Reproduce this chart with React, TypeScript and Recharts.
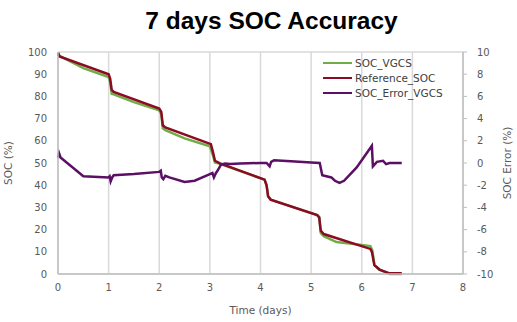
import React from 'react';
import { LineChart, Line, XAxis, YAxis, CartesianGrid, Legend } from 'recharts';

// time (days), value
const socVgcs: [number, number][] = [
    [0, 99.8], [0.03, 98.3], [0.5, 92.7], [1.0, 88.7], [1.03, 86.5], [1.06, 81.2], [1.1, 80.9],
    [1.5, 77.4], [2.0, 73.7], [2.04, 72.0], [2.07, 65.6], [2.12, 64.8], [2.5, 61.1], [3.0, 57.5],
    [3.06, 53.5], [3.1, 50.2], [3.2, 49.6], [4.08, 42.5], [4.12, 40], [4.15, 35], [4.2, 33.5],
    [5.12, 26.5], [5.16, 25.5], [5.19, 18.5], [5.25, 17.0], [5.5, 14.4], [5.8, 13.6], [6.0, 13.1],
    [6.17, 12.6], [6.21, 10.5], [6.25, 4], [6.35, 2], [6.55, 0], [6.79, 0],
];
const referenceSoc: [number, number][] = [
    [0, 99.5], [0.03, 98], [1.0, 90], [1.03, 88], [1.06, 83], [1.1, 82], [2.0, 74.5], [2.04, 73],
    [2.07, 67], [2.12, 66], [3.02, 58.5], [3.06, 55], [3.1, 51], [3.2, 49.8], [4.08, 42.5],
    [4.12, 40], [4.15, 35], [4.2, 33.5], [5.12, 26.5], [5.16, 25.5], [5.19, 19.5], [5.25, 18],
    [6.17, 11.3], [6.2, 10], [6.25, 4], [6.35, 2], [6.55, 0.3], [6.79, 0.3],
];
const socErrorVgcs: [number, number][] = [
    [0, 0.5], [0.02, 0.9], [0.05, 0.5], [0.5, -1.2], [1.0, -1.3], [1.02, -1.2], [1.04, -1.65],
    [1.07, -1.3], [1.1, -1.1], [1.5, -1.0], [2.0, -0.8], [2.03, -0.7], [2.05, -1.3], [2.08, -1.45],
    [2.12, -1.15], [2.2, -1.3], [2.5, -1.7], [2.7, -1.6], [3.0, -1.0], [3.05, -0.9], [3.08, -1.3],
    [3.12, -0.9], [3.15, -0.7], [3.22, -0.15], [3.3, -0.05], [3.4, -0.1], [3.6, -0.05], [4.0, 0.0],
    [4.12, 0.0], [4.18, -0.3], [4.21, 0.1], [4.27, 0.25], [4.6, 0.15], [5.0, 0.05], [5.17, 0.0],
    [5.22, -1.1], [5.4, -1.3], [5.47, -1.6], [5.56, -1.8], [5.65, -1.6], [5.9, -0.4], [6.2, 1.55],
    [6.22, -0.3], [6.3, 0.1], [6.42, 0.2], [6.48, -0.1], [6.55, 0.0], [6.79, 0.0],
];
const dayTicks = [0, 1, 2, 3, 4, 5, 6, 7, 8];
const socTicks = [0, 10, 20, 30, 40, 50, 60, 70, 80, 90, 100];
const errTicks = [-10, -8, -6, -4, -2, 0, 2, 4, 6, 8, 10];

const toRows = (pts: [number, number][]) => pts.map(([t, v]) => ({ t, v }));

const series = [
    { name: 'SOC_VGCS', color: '#70AD47', data: toRows(socVgcs), axis: 'soc' },
    { name: 'Reference_SOC', color: '#8B0A24', data: toRows(referenceSoc), axis: 'soc' },
    { name: 'SOC_Error_VGCS', color: '#5B0F65', data: toRows(socErrorVgcs), axis: 'err' },
];

const font = 'DejaVu Sans, Verdana, sans-serif';
const tickStyle = { fill: '#595959', fontSize: 10, fontFamily: font };

const LegendBox = () => (
    <div style={{ fontFamily: font, fontSize: 10.5, color: '#404040' }}>
        {series.map((s) => (
            <div key={s.name} style={{ display: 'flex', alignItems: 'center', height: 15 }}>
                <span style={{ display: 'inline-block', width: 29, height: 2, background: s.color, marginRight: 3 }} />
                <span>{s.name}</span>
            </div>
        ))}
    </div>
);

export default function App() {
    return (
        <div style={{ position: 'absolute', left: 0, top: 0, width: 517, height: 322, background: '#fff' }}>
            <div
                style={{
                    position: 'absolute', left: 13, top: 7, width: 517, textAlign: 'center',
                    fontFamily: 'Liberation Sans, Arial, sans-serif', fontWeight: 'bold', fontSize: 24.5, color: '#000',
                }}
            >
                7 days SOC Accuracy
            </div>
            <LineChart width={517} height={322} margin={{ top: 52, right: 0, bottom: 0, left: 0 }}>
                <CartesianGrid stroke="#d9d9d9" strokeWidth={1.5} />
                <XAxis
                    type="number" dataKey="t" domain={[0, 8]} ticks={dayTicks} height={48}
                    tick={tickStyle} tickLine={false} tickSize={6} tickMargin={4}
                    axisLine={{ stroke: '#bfbfbf', strokeWidth: 1.5 }} allowDuplicatedCategory={false}
                    label={{ value: 'Time (days)', position: 'insideBottom', offset: 8, style: { ...tickStyle, fontSize: 10.5 } }}
                />
                <YAxis
                    yAxisId="soc" domain={[0, 100]} ticks={socTicks} width={58} interval={0}
                    tick={tickStyle} tickLine={false} tickSize={6} tickMargin={5}
                    axisLine={{ stroke: '#bfbfbf', strokeWidth: 1.5 }}
                    label={{ value: 'SOC (%)', angle: -90, position: 'insideLeft', offset: 8, style: { ...tickStyle, fontSize: 10.5, textAnchor: 'middle' } }}
                />
                <YAxis
                    yAxisId="err" orientation="right" domain={[-10, 10]} ticks={errTicks} width={54} interval={0}
                    tick={tickStyle} tickLine={{ stroke: '#bfbfbf' }} tickSize={4} tickMargin={10}
                    axisLine={{ stroke: '#bfbfbf', strokeWidth: 1.5 }}
                    label={{ value: 'SOC Error (%)', angle: -90, position: 'insideRight', offset: 10, style: { ...tickStyle, fontSize: 10.5, textAnchor: 'middle' } }}
                />
                <Legend
                    content={<LegendBox />}
                    layout="horizontal" verticalAlign="middle" align="center"
                    wrapperStyle={{ position: 'absolute', left: 323, top: 55, width: 150 }}
                />
                {series.map((s) => (
                    <Line
                        key={s.name}
                        yAxisId={s.axis}
                        data={s.data}
                        dataKey="v"
                        name={s.name}
                        stroke={s.color}
                        strokeWidth={2.5}
                        dot={false}
                        type="linear"
                        isAnimationActive={false}
                    />
                ))}
            </LineChart>
        </div>
    );
}
